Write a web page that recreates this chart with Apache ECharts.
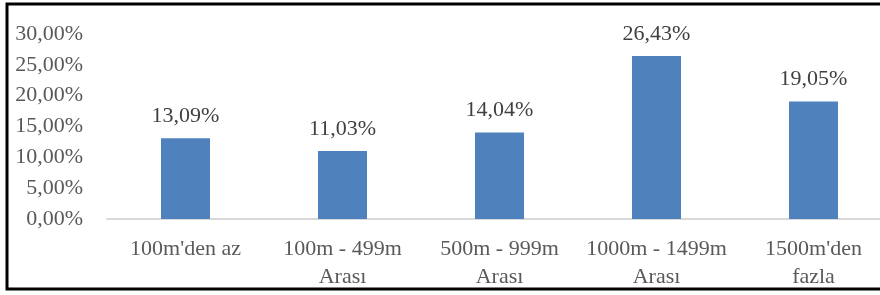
<!DOCTYPE html>
<html>
<head>
<meta charset="utf-8">
<script src="https://cdn.jsdelivr.net/npm/echarts@6/dist/echarts.min.js"></script>
<style>
  html, body { margin: 0; padding: 0; background: #fff; }
  #chart { width: 880px; height: 295px; }
</style>
</head>
<body>
<div id="chart"></div>
<script>
var categories = ["100m'den az", '100m - 499m\nArası', '500m - 999m\nArası', '1000m - 1499m\nArası', "1500m'den\nfazla"];
var values = [13.09, 11.03, 14.04, 26.43, 19.05];

function pct(v) {
  return v.toFixed(2).replace('.', ',') + '%';
}

var chart = echarts.init(document.getElementById('chart'));
chart.setOption({
  animation: false,
  textStyle: { fontFamily: 'Liberation Serif' },
  graphic: [{
    type: 'rect',
    shape: { x: 7, y: 4, width: 900, height: 285 },
    style: { fill: 'none', stroke: '#000', lineWidth: 3 },
    silent: true
  }],
  grid: { left: 107, top: 34, width: 785, height: 185, outerBoundsMode: 'none', containLabel: false },
  xAxis: {
    type: 'category',
    data: categories,
    axisLine: { lineStyle: { color: '#d9d9d9', width: 2 } },
    axisTick: { show: false },
    axisLabel: {
      interval: 0,
      color: '#595959',
      fontSize: 22,
      lineHeight: 28,
      margin: 16,
      fontFamily: 'Liberation Serif'
    }
  },
  yAxis: {
    type: 'value',
    min: 0,
    max: 30,
    interval: 5,
    splitLine: { show: false },
    axisLine: { show: false },
    axisTick: { show: false },
    axisLabel: {
      color: '#595959',
      fontSize: 22,
      margin: 24,
      fontFamily: 'Liberation Serif',
      formatter: function (v) { return pct(v); }
    }
  },
  series: [{
    type: 'bar',
    data: values,
    barWidth: 49,
    itemStyle: { color: '#4f81bd' },
    label: {
      show: true,
      position: 'top',
      distance: 11,
      color: '#404040',
      fontSize: 22,
      fontFamily: 'Liberation Serif',
      formatter: function (p) { return pct(p.value); }
    }
  }]
});
</script>
</body>
</html>
